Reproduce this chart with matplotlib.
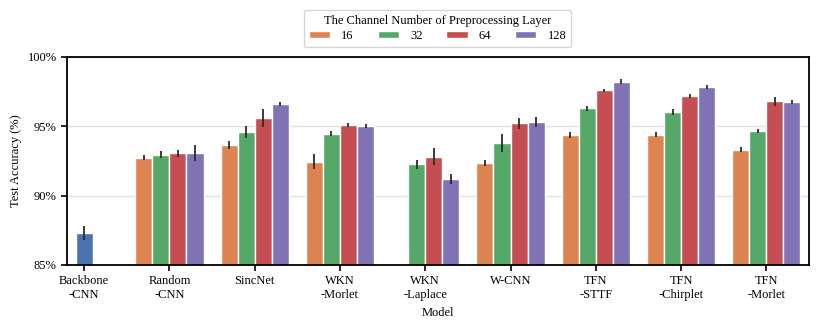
import numpy as np
import matplotlib
matplotlib.use('Agg')
import matplotlib.pyplot as plt
from matplotlib.patches import Patch

plt.rcParams['font.family'] = ['Liberation Serif', 'DejaVu Serif']
plt.rcParams['font.size'] = 9

# 数据
models = ['Backbone\n-CNN', 'Random\n-CNN', 'SincNet', 'WKN\n-Morlet', 'WKN\n-Laplace',
          'W-CNN', 'TFN\n-STTF', 'TFN\n-Chirplet', 'TFN\n-Morlet']
channels = ['16', '32', '64', '128']

backbone_mean = 87.27
backbone_err = 0.5

# 每个通道数的均值 (Random-CNN ... TFN-Morlet), nan 表示没有
acc_16 = [92.73, 93.65, 92.45, np.nan, 92.35, 94.39, 94.39, 93.31]
acc_32 = [92.95, 94.56, 94.46, 92.25, 93.79, 96.28, 96.04, 94.65]
acc_64 = [93.05, 95.61, 95.11, 92.81, 95.20, 97.58, 97.19, 96.81]
acc_128 = [93.07, 96.62, 95.01, 91.20, 95.30, 98.20, 97.82, 96.76]

err_16 = [0.2, 0.3, 0.55, 0.0, 0.2, 0.22, 0.18, 0.2]
err_32 = [0.25, 0.43, 0.2, 0.3, 0.67, 0.15, 0.22, 0.12]
err_64 = [0.25, 0.64, 0.15, 0.6, 0.37, 0.1, 0.13, 0.32]
err_128 = [0.6, 0.15, 0.15, 0.35, 0.38, 0.17, 0.13, 0.15]

colors = ['#DD8452', '#55A868', '#C44E52', '#8172B3']
backbone_color = '#4C72B0'

fig = plt.figure(figsize=(8.18, 3.27), dpi=100)
ax = fig.add_axes([0.082, 0.19, 0.907, 0.636])

bar_w = 0.2
ax.bar(0, backbone_mean - 85, bottom=85, width=bar_w, color=backbone_color,
       edgecolor='white', linewidth=1, zorder=2)
ax.errorbar(0, backbone_mean, yerr=backbone_err, color='#2b2b2b', lw=1.3, fmt='none', zorder=3)

x = np.arange(1, len(models))
all_acc = [acc_16, acc_32, acc_64, acc_128]
all_err = [err_16, err_32, err_64, err_128]
for i in range(4):
    pos = x + (i - 1.5) * bar_w
    vals = np.array(all_acc[i])
    errs = np.array(all_err[i])
    ok = ~np.isnan(vals)
    ax.bar(pos[ok], vals[ok] - 85, bottom=85, width=bar_w, color=colors[i],
           edgecolor='white', linewidth=1, zorder=2)
    ax.errorbar(pos[ok], vals[ok], yerr=errs[ok], color='#2b2b2b', lw=1.3, fmt='none', zorder=3)

ax.set_xlim(-0.2, 8.5)
ax.set_ylim(85, 100)
ax.set_yticks([85, 90, 95, 100])
ax.set_yticklabels(['85%', '90%', '95%', '100%'])
ax.set_xticks(range(len(models)))
ax.set_xticklabels(models)
ax.yaxis.grid(True, color='#e0e0e0', lw=1, zorder=0)
ax.set_axisbelow(True)
for s in ax.spines.values():
    s.set_linewidth(1.3)
ax.tick_params(width=1.2, length=4)
ax.set_xlabel('Model')
ax.set_ylabel('Test Accuracy (%)')

handles = [Patch(facecolor=c, edgecolor='white') for c in colors]
fig.legend(handles, channels, loc='upper center', bbox_to_anchor=(0.535, 0.99), ncol=4,
           title='The Channel Number of Preprocessing Layer', frameon=True,
           edgecolor='#cccccc', handlelength=1.7, handleheight=0.45, handletextpad=0.9,
           columnspacing=1.9, title_fontsize=9, borderpad=0.4, labelspacing=0.3)

plt.savefig('out.png', dpi=100)
